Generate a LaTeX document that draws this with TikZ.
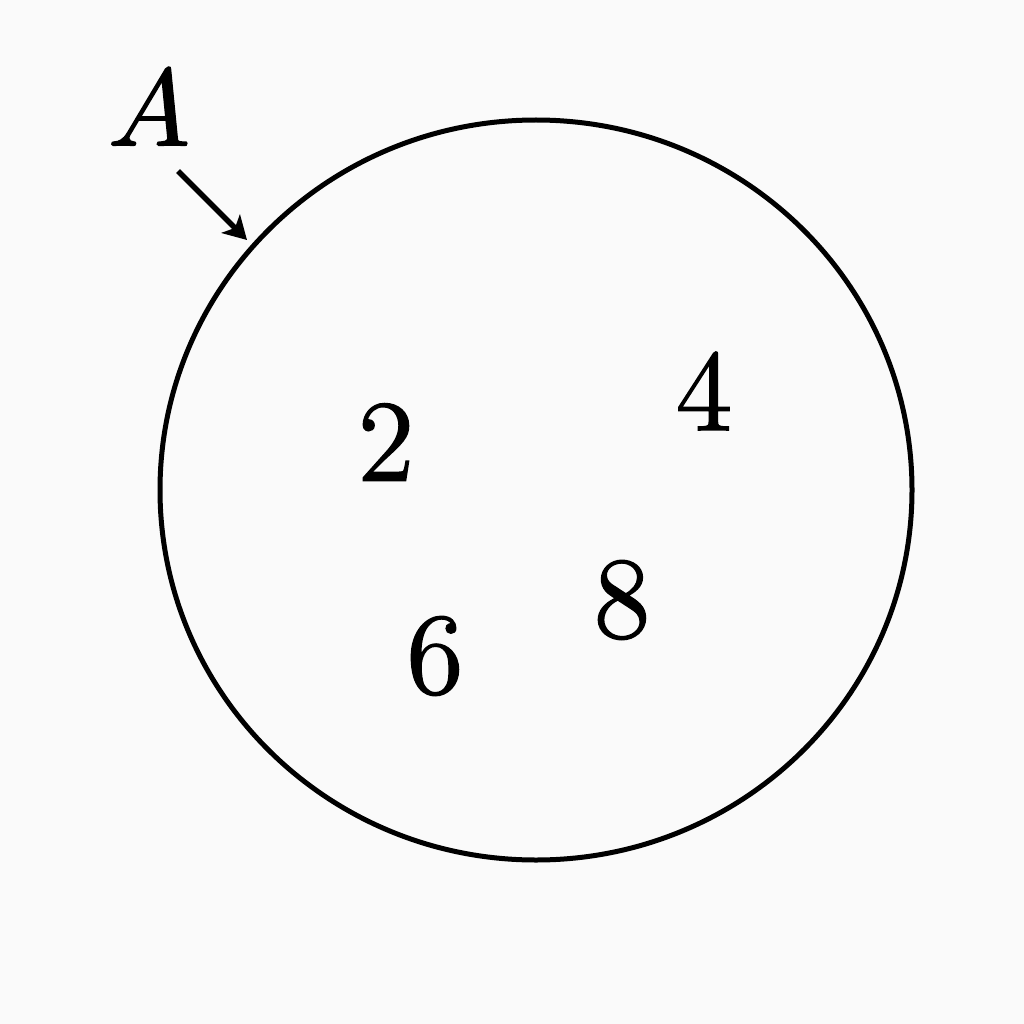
\documentclass[tikz,border=0pt]{standalone}
\usetikzlibrary{arrows.meta}
\newcommand{\heavytext}[1]{\special{pdf:literal direct 2 Tr 0.14 w}#1\special{pdf:literal direct 0 Tr}}
\begin{document}
\begin{tikzpicture}[x=1pt,y=-1pt,
  num/.style={inner sep=0pt,scale=10,font=\fontsize{11.6}{14}\selectfont},
  setlabel/.style={inner sep=0pt,scale=10,font=\fontsize{10.7}{13}\selectfont},
  pointer/.style={line width=5.5pt,-{Stealth[length=23pt,width=26pt,inset=6pt]}}]
\useasboundingbox (0,0) rectangle (1024,1024);
\fill[fill={rgb,255:red,250;green,250;blue,250}] (0,0) rectangle (1024,1024);
\draw[line width=5pt] (536,490) ellipse [x radius=376pt, y radius=370pt];
\node[setlabel] (A) at (149,108) {\heavytext{$A$}};
\coordinate (atail) at (178,171);
\coordinate (ahead) at (247,240);
\draw[pointer] (atail) -- (ahead);
\node[num] (n2) at (386,442) {\heavytext{2}};
\node[num] (n4) at (704,391) {\heavytext{4}};
\node[num] (n8) at (622,600) {\heavytext{8}};
\node[num] (n6) at (435,656) {\heavytext{6}};
\end{tikzpicture}
\end{document}
